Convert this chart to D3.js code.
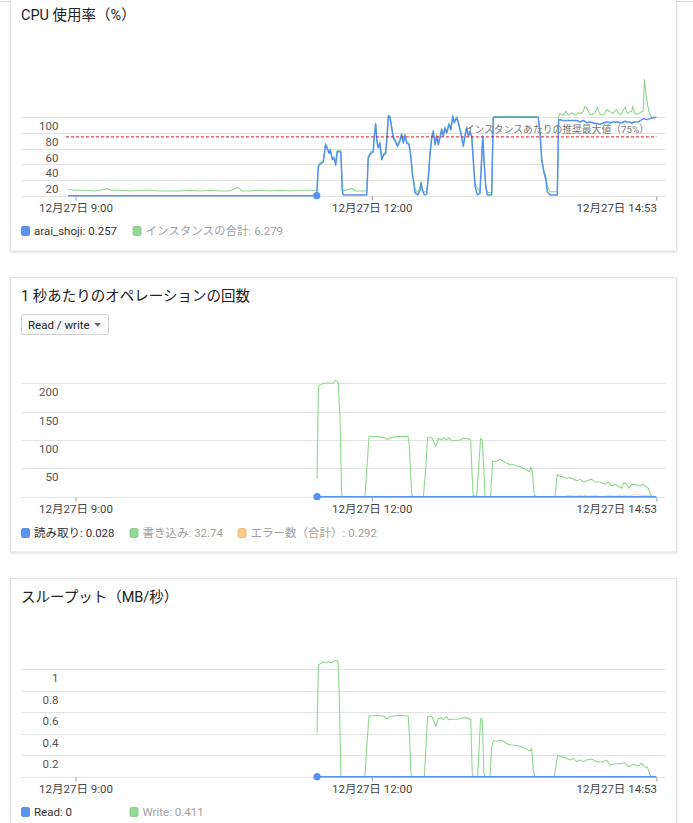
<!DOCTYPE html>
<html><head><meta charset="utf-8">
<script src="https://cdn.jsdelivr.net/npm/d3@7"></script>
<style>
html,body{margin:0;padding:0;background:#fff;}
svg{display:block;font-family:Roboto,"Noto Sans CJK JP",sans-serif;}
</style></head><body>
<svg id="c" width="693" height="823"></svg>
<script>
// ---------- DATA (minutes after 12/27 9:00) ----------
const tickMinutes = [0, 180, 353];
const tickLabels = ["12月27日 9:00", "12月27日 12:00", "12月27日 14:53"];

// CPU usage (%)
const cpuMinutes = [-4.6,-0.3,5.8,11.9,14.9,19.1,22.2,27.0,33.1,39.2,45.3,51.4,57.4,63.5,69.6,75.7,81.7,87.8,93.9,98.6,101.2,106.0,112.1,118.2,124.3,130.4,136.4,142.5,146.6,
 147.6,148.6,150.6,152.0,152.8,154.1,154.8,156.1,157.3,158.1,159.1,160.7,161.3,162.1,162.7,168.5,169.9,177.0,177.9,179.4,
 181.0,181.6,182.4,183.2,184.0,185.0,186.1,187.3,188.5,189.3,190.1,191.1,192.2,193.1,194.2,195.8,197.2,198.2,199.2,200.2,
 201.3,202.7,203.9,204.7,205.5,206.3,208.0,209.4,210.0,210.8,212.0,213.4,214.4,215.4,216.5,217.4,218.5,219.5,220.5,221.5,
 222.5,223.5,224.5,225.6,227.0,228.2,229.2,230.2,231.0,231.8,232.6,233.7,234.7,235.7,236.7,237.7,238.7,239.7,240.8,241.7,
 242.8,244.2,245.8,246.9,247.5,248.2,249.3,250.3,252.9,253.9,254.9,264.0,273.2,281.2,282.3,283.3,284.7,285.9,286.7,288.4,
 292.8,293.6,294.4,296.4,298.1,299.5,300.5,301.5,303.5,304.6,305.6,306.6,307.6,308.6,309.6,310.7,312.7,315.7,317.1,318.7,
 321.2,322.8,324.8,326.8,328.9,329.9,330.9,331.9,333.9,335.3,337.0,338.0,338.6,340.0,342.0,344.1,345.1,345.7,347.1,348.7,
 350.2,353];
const cpuInstance = [0,0,0,0,0,0,0,0,0,0,0,0,0,0,0,0,0,0,0,0,0,0,0,0,0,0,0,0,0,
 37,40,43,65,61,54,58,46,48,39,56,56,55,7,1,1,1,1,48,54,
 56,76,91,69,61,67,46,52,54,74,101,100,86,74,70,63,70,78,67,77,
 67,65,48,27,18,4,1,7,16,7,1,2,22,52,74,82,65,76,65,74,
 84,76,86,80,91,84,101,93,97,99,93,84,74,63,76,86,76,81,75,46,
 12,1,3,50,75,46,12,1,1,99,100,100,100,100,80,46,29,20,5,1,
 1,97,97,96,96,96,96,96,96,96,95,94,95,96,95,93,94,92,92,91,
 93,94,93,94,94,94,93,93,95,94,94,92,93,94,94,97,98,98,97,98,
 99,100];
const cpuTotal = [8,7,7,6,7,9,7,7,6,7,7,6,6,6,7,6,7,6,6,11,6,6,7,6,7,6,7,7,7,
 39,42,45,67,63,56,60,48,50,41,58,58,57,10,6,9,6,6,50,56,
 58,78,93,71,63,69,48,54,56,76,103,102,88,76,72,65,72,80,69,79,
 69,67,50,29,20,8,5,10,18,9,5,5,24,54,76,84,67,78,67,76,
 86,78,88,82,93,86,103,95,99,101,95,86,76,65,78,88,78,83,77,48,
 14,10,5,52,77,48,14,4,4,101,101,101,101,101,82,50,33,24,12,5,
 5,100,105,103,108,103,104,106,103,104,106,105,105,108,114,112,103,105,113,104,
 103,110,107,105,110,105,104,104,113,105,107,107,114,105,104,107,108,148,122,105,
 100,100];
const cpuThreshold = 75;

// Operations per second
const opsMinutes = [146.8,147.6,148.6,150.6,151.6,152.7,154.7,156.7,157.7,159.1,
 159.7,160.7,161.8,162.7,175.9,177.0,178.4,180.0,183.0,186.1,
 188.1,189.7,191.1,194.2,198.2,202.2,202.9,204.3,205.3,211.4,
 212.8,214.0,216.5,217.4,218.9,220.5,222.5,223.5,225.6,226.6,
 228.6,231.7,233.7,235.7,238.7,240.2,240.8,241.7,243.8,245.2,
 246.2,247.2,248.2,248.9,252.3,253.5,254.3,256.0,258.0,260.0,
 262.0,264.0,266.1,268.1,270.1,272.1,274.2,275.8,276.8,277.6,
 278.8,280.3,291.4,292.8,294.4,296.4,298.5,300.5,302.5,304.9,
 306.6,308.6,310.7,313.7,315.7,318.7,321.8,323.8,325.8,327.9,
 329.9,331.9,333.3,335.0,336.5,338.0,341.0,343.0,344.7,346.1,
 348.1,349.1,350.2,353];
const opsWrite = [32,195,197,200,199,201,200,201,205,204,
 200,141,3,0,0,47,107,106,106,105,
 104,101,104,106,106,106,88,3,0,0,
 47,104,104,100,88,103,100,104,100,104,
 99,99,100,103,102,100,53,1,1,59,
 103,100,47,0,0,63,62,63,66,62,
 60,56,57,54,53,50,47,44,52,44,
 3,0,0,39,36,35,32,34,31,28,
 31,26,28,31,26,26,22,26,19,22,
 19,15,25,22,15,22,21,19,22,19,
 15,7,0,0];
const readMinutes = [146.8,200,250,300,353];
const opsRead = [0.02,0.03,0.03,0.02,0.03];
const errMinutes = [146.8,296,300,304,308,312,316,320,324,328,332,336,340,344,348,350,353];
const opsError = [0,0,2,1,3,1,2,0,2,1,3,1,4,2,3,1,0];

// Throughput (MB/s)
const tpMinutes = [146.8,147.6,148.6,150.6,152.0,153.6,155.7,157.3,159.3,159.7,
 160.3,161.3,162.1,175.9,177.0,178.4,180.0,183.0,187.1,189.1,
 191.1,195.2,199.2,202.2,202.9,203.9,204.7,212.0,213.0,214.0,
 216.5,217.4,219.1,220.5,222.5,223.5,225.6,226.6,228.6,231.7,
 233.7,236.3,238.7,240.2,241.1,241.7,244.4,245.4,246.2,247.2,
 248.2,248.9,251.9,252.9,253.9,256.0,259.0,261.0,263.0,265.1,
 268.1,271.2,274.2,276.2,277.2,278.2,279.2,291.0,293.0,294.4,
 296.4,298.5,300.5,302.5,304.6,306.6,308.6,310.7,313.7,316.7,
 319.8,322.8,324.8,327.9,330.9,333.9,335.9,339.0,342.0,344.1,
 345.7,347.7,349.1,350.2,353];
const tpWrite = [0.41,1.04,1.05,1.07,1.06,1.07,1.06,1.08,1.08,1.04,
 0.75,0.01,0,0,0.28,0.57,0.565,0.57,0.565,0.54,
 0.56,0.57,0.57,0.565,0.40,0.015,0,0,0.28,0.56,
 0.56,0.53,0.47,0.54,0.55,0.53,0.56,0.53,0.535,0.535,
 0.54,0.55,0.545,0.53,0.03,0,0,0.31,0.54,0.54,
 0.03,0,0,0.28,0.335,0.33,0.34,0.32,0.30,0.295,
 0.29,0.28,0.255,0.24,0.265,0.06,0,0,0.20,0.19,
 0.18,0.17,0.155,0.17,0.14,0.155,0.14,0.155,0.165,0.14,
 0.135,0.155,0.11,0.12,0.12,0.13,0.093,0.115,0.10,0.125,
 0.093,0.087,0.015,0,0];
const tpReadMinutes = [146.8,353];
const tpRead = [0,0];

// ---------- DRAW ----------
const BLUE = "#5591f5", GREEN = "#8ed88e", ORANGE = "#ffd3a0";
const base = new Date(2017, 11, 27, 9, 0, 0);
const toDate = m => new Date(base.getTime() + m * 60000);
const svg = d3.select("#c");

const defs = svg.append("defs");
const f = defs.append("filter").attr("id","sh").attr("x","-5%").attr("y","-5%").attr("width","110%").attr("height","115%");
f.append("feDropShadow").attr("dx",0).attr("dy",1).attr("stdDeviation",1).attr("flood-color","#000").attr("flood-opacity",0.13);

// top page line
svg.append("line").attr("x1",0).attr("x2",693).attr("y1",1.5).attr("y2",1.5).attr("stroke","#dcdcdc");

// cards
[[-10,261],[277.5,274.5],[578.5,260]].forEach(([y,h])=>{
  svg.append("rect").attr("x",10.5).attr("y",y).attr("width",666).attr("height",h)
    .attr("fill","#fff").attr("stroke","#e2e2e2").attr("filter","url(#sh)");
});

const x = d3.scaleTime().domain([toDate(-4.6), toDate(353)]).range([67.93, 656.36]);

function panel(opt){
  const g = svg.append("g");
  g.append("text").attr("x",21).attr("y",opt.titleY).attr("font-size",14.5).attr("fill","#212121").text(opt.title);
  const y = opt.y;
  // gridlines
  g.append("g").selectAll("line").data(opt.grid).join("line")
    .attr("x1",21).attr("x2",665).attr("y1",d=>Math.round(y(d))+0.5).attr("y2",d=>Math.round(y(d))+0.5)
    .attr("stroke","#e3e3e3");
  // y labels (under each gridline)
  g.append("g").selectAll("text").data(opt.labels).join("text")
    .attr("x",58.5).attr("y",d=>y(d)+13).attr("text-anchor","end")
    .attr("font-size",11.5).attr("fill","#555").text(d=>d3.format("")(d));
  // x axis
  const ax = d3.axisBottom(x).tickValues(tickMinutes.map(toDate)).tickSize(4).tickPadding(3)
    .tickFormat((d,i)=>tickLabels[i]);
  const axg = g.append("g").attr("transform",`translate(0,${Math.round(y(0))+0.5})`).call(ax);
  axg.select(".domain").remove();
  axg.selectAll(".tick line").attr("stroke","#999");
  axg.selectAll(".tick text").attr("font-size",11.5).attr("fill","#444")
    .attr("font-family",'Roboto,"Noto Sans CJK JP",sans-serif')
    .attr("text-anchor",(d,i)=>i===tickMinutes.length-1?"end":"middle");
  // series
  opt.series.forEach(s=>{
    const pts = s.t.map((m,i)=>[x(toDate(m)), y(s.v[i])]);
    g.append("path").attr("d",d3.line()(pts)).attr("fill","none")
      .attr("stroke",s.color).attr("stroke-width",s.w).attr("stroke-linejoin","round");
  });
  if(opt.extra) opt.extra(g,y);
  // dot
  g.append("circle").attr("cx",x(toDate(opt.dot[0]))).attr("cy",y(opt.dot[1])).attr("r",3.6).attr("fill",BLUE);
  // legend
  opt.legend.forEach(l=>{
    g.append("rect").attr("x",l.x+0.5).attr("y",opt.legendY-8.5).attr("width",8).attr("height",9).attr("rx",1.5)
      .attr("fill",l.color).attr("stroke",d3.color(l.color).darker(0.3)).attr("stroke-width",0.8);
    g.append("text").attr("x",l.x+13).attr("y",opt.legendY).attr("font-size",11.5).attr("fill",l.tc).text(l.text);
  });
}

// Panel 1
panel({
  title:"CPU 使用率（%）", titleY:20,
  y:d3.scaleLinear().domain([0,100]).range([195.7,117.3]),
  grid:[0,20,40,60,80,100], labels:[20,40,60,80,100],
  series:[
    {t:cpuMinutes, v:cpuTotal, color:GREEN, w:1.1},
    {t:cpuMinutes, v:cpuInstance, color:BLUE, w:1.5}
  ],
  extra:(g,y)=>{
    g.append("line").attr("x1",x(toDate(-4.6))-2).attr("x2",x(toDate(353)))
      .attr("y1",y(cpuThreshold)).attr("y2",y(cpuThreshold))
      .attr("stroke","#d81414").attr("stroke-dasharray","3,2").attr("stroke-width",1);
    g.append("text").attr("x",649).attr("y",y(cpuThreshold)-4).attr("text-anchor","end")
      .attr("font-size",9.8).attr("fill","#777").text("インスタンスあたりの推奨最大値（75%）");
  },
  dot:[146.6,0],
  legendY:235,
  legend:[
    {x:21,color:"#5a93f2",tc:"#333",text:"arai_shoji: 0.257"},
    {x:132.5,color:"#93d993",tc:"#a0a0a0",text:"インスタンスの合計: 6.279"}
  ]
});

// Panel 2
panel({
  title:"1 秒あたりのオペレーションの回数", titleY:301,
  y:d3.scaleLinear().domain([0,200]).range([496.7,383.3]),
  grid:[0,50,100,150,200], labels:[50,100,150,200],
  series:[
    {t:errMinutes, v:opsError, color:ORANGE, w:1},
    {t:opsMinutes, v:opsWrite, color:GREEN, w:1.1},
    {t:readMinutes, v:opsRead, color:BLUE, w:1.5}
  ],
  extra:(g)=>{
    const dd = g.append("g");
    dd.append("rect").attr("x",21.5).attr("y",314.5).attr("width",87).attr("height",20).attr("rx",2)
      .attr("fill","#fafafa").attr("stroke","#d2d2d2");
    dd.append("text").attr("x",28).attr("y",328.5).attr("font-size",11.5).attr("fill","#222").text("Read / write");
    dd.append("path").attr("d","M94,323 L101,323 L97.5,326.5 Z").attr("fill","#666");
  },
  dot:[146.8,0],
  legendY:537,
  legend:[
    {x:21,color:"#5a93f2",tc:"#333",text:"読み取り: 0.028"},
    {x:129.5,color:"#93d993",tc:"#a0a0a0",text:"書き込み: 32.74"},
    {x:237.5,color:"#ffc883",tc:"#a0a0a0",text:"エラー数（合計）: 0.292"}
  ]
});

// Panel 3
panel({
  title:"スループット（MB/秒）", titleY:602,
  y:d3.scaleLinear().domain([0,1]).range([776.7,669.3]),
  grid:[0,0.2,0.4,0.6,0.8,1], labels:[0.2,0.4,0.6,0.8,1],
  series:[
    {t:tpMinutes, v:tpWrite, color:GREEN, w:1.1},
    {t:tpReadMinutes, v:tpRead, color:BLUE, w:1.5}
  ],
  dot:[146.8,0],
  legendY:816,
  legend:[
    {x:21,color:"#5a93f2",tc:"#333",text:"Read: 0"},
    {x:129.5,color:"#93d993",tc:"#a0a0a0",text:"Write: 0.411"}
  ]
});
</script></body></html>
